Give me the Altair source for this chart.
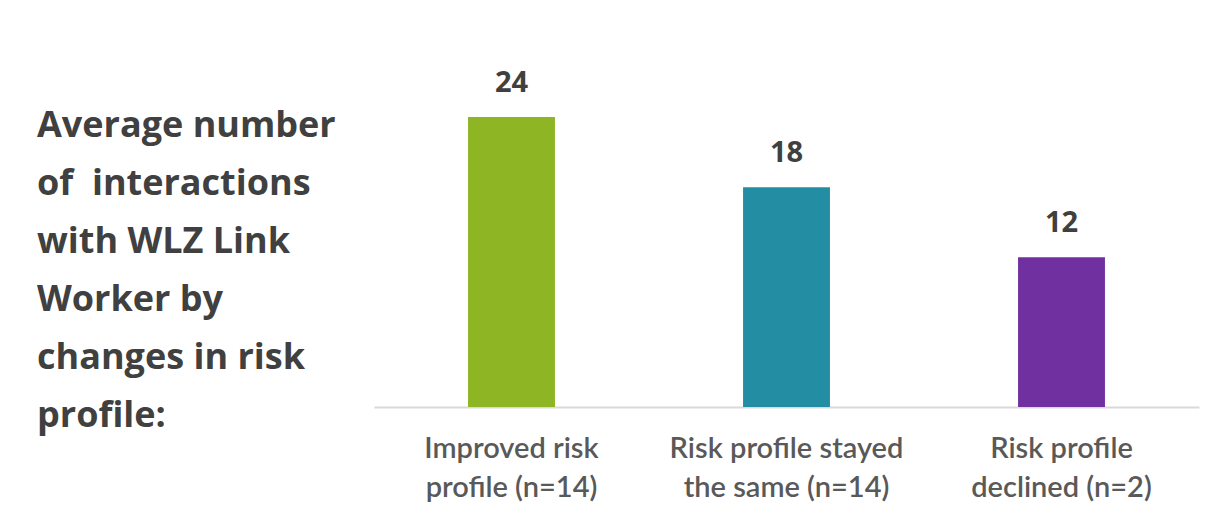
import altair as alt
import pandas as pd

categories = ["Improved risk|profile (n=14)", "Risk profile stayed|the same (n=14)", "Risk profile|declined (n=2)"]
values = [24.0, 18.2, 12.4]
colors = ["#8DB524", "#238EA3", "#7030A0"]
title_lines = ["Average number", "of\u00a0 interactions", "with WLZ Link", "Worker by", "changes in risk", "profile:"]

df = pd.DataFrame({"cat": categories, "val": values, "col": colors})

x = alt.X("cat:N", sort=categories,
          scale=alt.Scale(paddingInner=0.684, paddingOuter=0.342),
          axis=alt.Axis(title=None, labelAngle=0, ticks=False, domainColor="#D9D9D9", domainWidth=2,
                        labelExpr="split(datum.label, '|')", labelFont="Lato", labelFontSize=29,
                        labelFontWeight=600,
                        labelColor="#595959", labelLineHeight=39, labelPadding=27, labelBaseline="top",
                        labelLimit=400))
y = alt.Y("val:Q", scale=alt.Scale(domain=[0, 25], nice=False), axis=None)

base = alt.Chart(df)
bars = base.mark_bar().encode(x=x, y=y, color=alt.Color("col:N", scale=None))
labels = base.mark_text(baseline="alphabetic", dy=-25, font="Open Sans", fontWeight="bold",
                        fontSize=29, color="#404040").encode(
    x=alt.X("cat:N", sort=categories), y="val:Q", text=alt.Text("val:Q", format=".0f"))

title = alt.Chart(pd.DataFrame({"t": [0]})).mark_text(
    text=title_lines, align="left", baseline="alphabetic", lineHeight=58,
    font="Open Sans", fontWeight="bold", fontSize=36, color="#404040").encode(
    x=alt.value(-337), y=alt.value(32))

chart = alt.layer(bars, labels, title).properties(
    width=825, height=302,
    background="white",
    autosize=alt.AutoSizeParams(type="none"),
    padding={"left": 374, "top": 105, "right": 18, "bottom": 111},
).configure_view(stroke=None)

chart.save("out.html", embed_options={"renderer": "svg", "actions": False})
